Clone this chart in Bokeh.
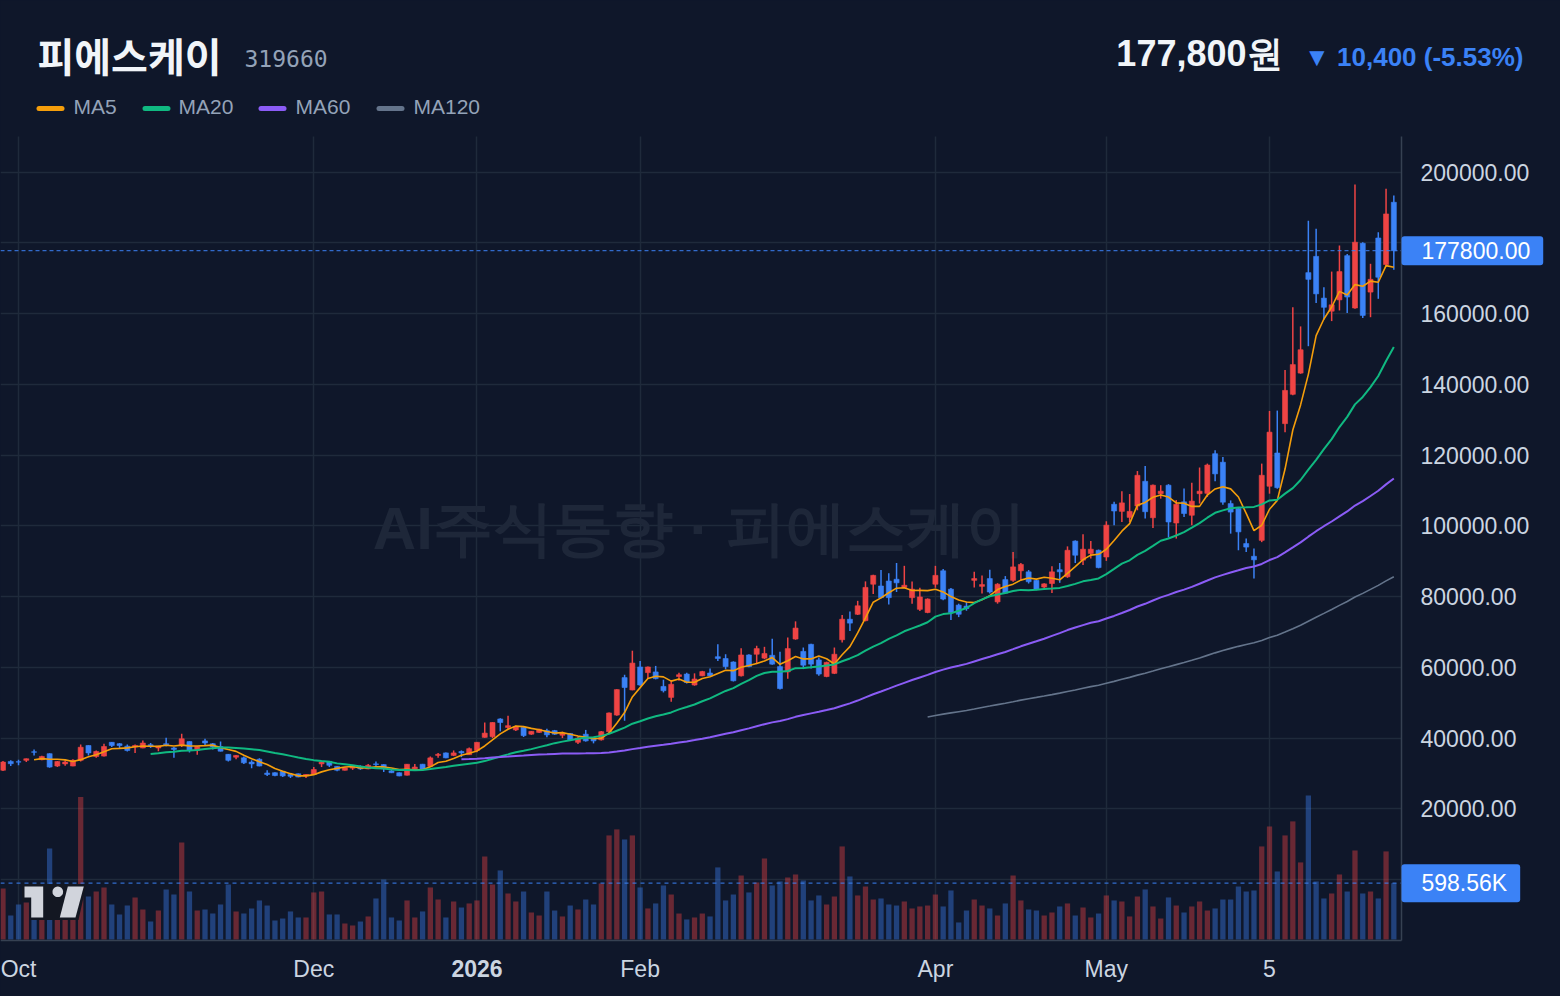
import math
import pandas as pd
from bokeh.plotting import figure
from bokeh.models import (ColumnDataSource, Range1d, FixedTicker, PrintfTickFormatter,
                          Label, BoxAnnotation, PolyAnnotation, LinearAxis, Grid)
from bokeh.embed import file_html
from bokeh.resources import INLINE

BG = "#0f172a"
UP = "#ef4444"
DOWN = "#3b82f6"
TXT = "#cbd5e1"
MUTED = "#94a3b8"
GRID = "#1f2a3b"
AXIS = "#364152"

name = "피에스케이"
code = "319660"
watermark = "AI주식동향 · 피에스케이"

tick_idx = [2, 40, 61, 82, 120, 142, 163]
tick_labels = ["Oct", "Dec", "2026", "Feb", "Apr", "May", "5"]
price_ticks = [0, 20000, 40000, 60000, 80000, 100000, 120000, 140000, 160000, 180000, 200000]

opens = [30900, 33400, 33300, 33700, 36100, 33900, 35600, 32100, 32700, 32100,
         33700, 37900, 34800, 34900, 38800, 38400, 37700, 37500, 37200, 38100,
         37200, 38400, 37200, 37900, 39000, 36500, 39200, 38400, 37600, 35400,
         34600, 34400, 33200, 34000, 30100, 30200, 30600, 29700, 29900, 29300,
         29700, 32700, 33400, 32000, 30900, 31500, 32000, 31300, 32700, 32500,
         30700, 30200, 29500, 31300, 32600, 32000, 35100, 35800, 35100, 36200,
         35300, 36500, 40200, 40400, 45400, 43000, 42300, 43000, 41100, 41600,
         42100, 42100, 40800, 41300, 38800, 41100, 39900, 39500, 41800, 46500,
         57100, 53600, 60100, 58500, 58700, 54600, 51500, 57400, 58100, 55000,
         57600, 58400, 63000, 62500, 61500, 57600, 63500, 63700, 62600, 63400,
         60200, 58700, 68000, 64500, 66500, 62100, 57400, 58300, 67800, 73600,
         75000, 73200, 83500, 83000, 84400, 84900, 82600, 79700, 76400, 75500,
         83500, 87300, 82100, 77600, 77300, 84600, 82900, 85100, 78500, 84800,
         84600, 87300, 87000, 84600, 82700, 83700, 87600, 85600, 95700, 90300,
         92200, 93100, 91200, 106100, 104100, 102400, 105600, 112600, 102300, 109100,
         111500, 100800, 106800, 103000, 109100, 109200, 120400, 118000, 106300, 104900,
         95000, 91400, 95900, 111200, 120600, 128900, 137200, 143200, 171600, 176200,
         164400, 160700, 163900, 176400, 161600, 179900, 166100, 181400, 173900, 191500]

highs = [33500, 33700, 33900, 34200, 36800, 35000, 35700, 33500, 33700, 34000,
         38200, 38000, 36500, 38400, 38900, 38600, 38200, 38200, 39300, 38600,
         37800, 40100, 37500, 41200, 39100, 37700, 39800, 38600, 39000, 35500,
         35200, 34800, 33700, 34300, 30900, 30300, 30700, 29900, 30000, 29800,
         31800, 33300, 33500, 32100, 31700, 32200, 32300, 32700, 33400, 32600,
         31100, 30300, 32700, 32700, 32700, 34800, 35800, 35900, 36500, 36500,
         37300, 38900, 44400, 44500, 45600, 46300, 43500, 43100, 42000, 42600,
         42600, 42300, 41800, 41400, 40400, 42300, 40100, 42000, 47200, 53800,
         57900, 64700, 61800, 60200, 60400, 56500, 56400, 58500, 58500, 58300,
         59000, 59700, 66500, 63700, 61700, 65400, 63700, 66100, 65800, 68100,
         64400, 68400, 73000, 65600, 66700, 62800, 61600, 65600, 74800, 75800,
         78800, 84300, 86200, 87500, 86600, 89500, 88700, 84300, 82500, 79500,
         88700, 87800, 82400, 78000, 78500, 87000, 86000, 87600, 83800, 85800,
         92600, 89500, 87500, 84800, 83800, 88600, 89500, 94200, 95900, 97600,
         95700, 93300, 101300, 106800, 109800, 109000, 115500, 116900, 111700, 111500,
         111800, 107300, 110600, 112200, 116500, 117600, 121400, 119500, 107200, 105200,
         96400, 93600, 117600, 132500, 132600, 144100, 161800, 156400, 186300, 184000,
         167500, 171900, 179300, 176900, 196500, 180200, 174100, 183000, 195300, 193400]

lows = [30700, 32100, 32300, 33200, 35100, 33700, 31600, 31800, 32200, 32000,
        33400, 35100, 34400, 34800, 37500, 37200, 36200, 35800, 37100, 37200,
        36300, 37700, 34400, 37500, 35900, 35300, 37900, 36800, 36200, 33400,
        34000, 32700, 31500, 32000, 29300, 29200, 29000, 28700, 28900, 28700,
        29600, 31800, 31800, 30600, 30800, 31000, 31000, 31200, 31800, 30400,
        30100, 29200, 29400, 30900, 31100, 31900, 34400, 34300, 34900, 34600,
        35200, 36000, 40100, 40000, 41900, 42500, 42000, 40300, 40900, 41400,
        40200, 40900, 40000, 39400, 38300, 39000, 38500, 39300, 41600, 46300,
        44900, 53500, 54800, 56700, 56600, 52900, 50300, 56200, 55400, 54800,
        57500, 57500, 61800, 59500, 56000, 57400, 60000, 60900, 62300, 60700,
        53700, 56800, 67800, 59500, 59700, 57600, 57200, 58100, 67000, 70300,
        74800, 73000, 80700, 79500, 77800, 81300, 82400, 78000, 75900, 75300,
        82500, 79000, 73400, 74200, 76000, 82600, 80900, 80900, 78000, 80900,
        84200, 84600, 83700, 81800, 82000, 81000, 83900, 85300, 89500, 88900,
        90800, 88000, 90100, 100200, 101100, 101100, 104400, 102100, 99400, 107700,
        96700, 96400, 102500, 100200, 106300, 108200, 112600, 106000, 97800, 93100,
        92600, 85100, 95400, 109100, 110500, 126500, 136900, 143000, 150800, 163000,
        158300, 157900, 160900, 160200, 161400, 158800, 159000, 164200, 173300, 172400]

closes = [33200, 32750, 33200, 34150, 36000, 34800, 31800, 33400, 33200, 33700,
          37400, 35800, 36200, 37600, 37900, 37900, 36500, 37900, 38600, 37600,
          37700, 38100, 36800, 39800, 36500, 37600, 38600, 37500, 36300, 33700,
          35100, 33000, 32700, 32100, 29700, 29400, 29300, 29200, 29000, 29700,
          31100, 33200, 32300, 30900, 31600, 31800, 31300, 32300, 32500, 31300,
          30200, 29300, 32600, 31800, 31200, 34400, 35400, 34400, 35800, 35800,
          37000, 38800, 41400, 44400, 44400, 43500, 43200, 40700, 41900, 42500,
          40900, 41100, 41300, 39500, 40000, 39200, 39200, 41800, 47100, 53700,
          54300, 61200, 55000, 60100, 56800, 53400, 55200, 57900, 55700, 56700,
          58800, 57600, 62500, 60200, 56200, 63500, 60200, 65300, 63900, 60900,
          54000, 65300, 71100, 60600, 60900, 58100, 61400, 63700, 73600, 72500,
          77400, 82600, 86000, 79700, 79700, 83900, 83200, 82100, 79900, 79300,
          86000, 79300, 75500, 75000, 76600, 85100, 83400, 81300, 83500, 81000,
          88400, 89100, 84200, 82000, 83600, 87000, 87000, 93100, 91700, 93400,
          93400, 88200, 100200, 104200, 106500, 104100, 114300, 104000, 111500, 109800,
          101100, 106100, 103500, 107000, 109800, 117200, 114700, 106700, 103900, 98300,
          94000, 90400, 114300, 126500, 110800, 138300, 145600, 149800, 169700, 165600,
          161800, 162500, 171900, 164700, 180200, 159500, 169700, 170300, 188200, 177800]

volumes = [542000, 255000, 372000, 393000, 380000, 300000, 967000, 320000, 300000, 330000,
           1513000, 457000, 510000, 553000, 372000, 266000, 361000, 447000, 319000, 191000,
           308000, 532000, 478000, 1031000, 510000, 308000, 319000, 276000, 372000, 585000,
           298000, 276000, 330000, 415000, 361000, 202000, 223000, 298000, 234000, 234000,
           500000, 510000, 266000, 266000, 170000, 149000, 191000, 245000, 436000, 638000,
           234000, 202000, 415000, 234000, 298000, 553000, 425000, 234000, 404000, 340000,
           383000, 415000, 882000, 585000, 734000, 489000, 404000, 510000, 287000, 255000,
           510000, 308000, 245000, 361000, 319000, 425000, 372000, 595000, 1106000, 1170000,
           1063000, 1106000, 553000, 330000, 383000, 574000, 478000, 276000, 213000, 234000,
           276000, 245000, 766000, 415000, 478000, 680000, 500000, 606000, 861000, 574000,
           617000, 659000, 691000, 627000, 415000, 468000, 372000, 457000, 989000, 670000,
           468000, 563000, 425000, 436000, 372000, 361000, 404000, 330000, 351000, 361000,
           478000, 351000, 521000, 181000, 308000, 425000, 361000, 330000, 255000, 383000,
           680000, 415000, 319000, 308000, 255000, 287000, 351000, 383000, 255000, 340000,
           234000, 276000, 468000, 415000, 404000, 245000, 457000, 532000, 351000, 223000,
           447000, 361000, 287000, 351000, 404000, 308000, 330000, 425000, 425000, 563000,
           510000, 521000, 989000, 1201000, 723000, 1106000, 1255000, 819000, 1531000, 617000,
           436000, 489000, 691000, 510000, 946000, 489000, 510000, 436000, 936000, 598560]

n = len(closes)
assert len(opens) == n and len(highs) == n and len(lows) == n and len(volumes) == n

idx = list(range(n))
colors = [UP if c >= o else DOWN for o, c in zip(opens, closes)]
src = ColumnDataSource(dict(
    x=idx, o=opens, h=highs, l=lows, c=closes, v=volumes,
    top=[max(o, c) for o, c in zip(opens, closes)],
    bot=[min(o, c) for o, c in zip(opens, closes)],
    color=colors,
))

ma_specs = [(5, "#f59e0b", 1.6), (20, "#10b981", 2.0), (60, "#8b5cf6", 2.0), (120, "#64748b", 1.6)]
ma_vals = {w: pd.Series(closes).rolling(w).mean().tolist() for w, _, _ in ma_specs}

# plotting-area extents (data units); the frame covers the whole canvas
X_LO, X_HI, X_END = -0.32, 179.99, 200.45
Y_TOP, Y_BOT = 210094, -17237
H = 996


def cy(y):
    return H - y


p = figure(width=1560, height=H,
           x_range=Range1d(X_LO, X_END), y_range=Range1d(-33073, 248548),
           x_axis_type=None, y_axis_type=None,
           output_backend="svg", toolbar_location=None,
           min_border_left=0, min_border_right=0, min_border_top=0, min_border_bottom=0,
           background_fill_color=BG, border_fill_color=BG)
p.outline_line_color = None
p.styles = {"background-color": BG}
try:
    from bokeh.models import GlobalInlineStyleSheet
    p.stylesheets = [GlobalInlineStyleSheet(css=f"html, body {{ margin: 0; background: {BG}; }}")]
except Exception:
    pass
p.extra_y_ranges = {"vol": Range1d(-605700, 9978000)}

# grids (limited to the plotting area)
gx = Grid(dimension=0, ticker=FixedTicker(ticks=tick_idx), grid_line_color=GRID, grid_line_width=1.5)
gy = Grid(dimension=1, ticker=FixedTicker(ticks=price_ticks), grid_line_color=GRID, grid_line_width=1.5)
gx.cross_bounds = (Y_BOT, Y_TOP)
gy.cross_bounds = (X_LO, X_HI)
p.add_layout(gx)
p.add_layout(gy)

# watermark
p.add_layout(Label(x=699, y=cy(528), x_units="screen", y_units="screen", text=watermark,
                   text_align="center", text_baseline="middle", text_font="Liberation Sans",
                   text_font_style="bold", text_font_size="60px", text_color="#1e2739",
                   level="underlay"))

# volume
p.vbar(x="x", top="v", bottom=0, width=0.68, y_range_name="vol", source=src,
       fill_color="color", fill_alpha=0.4, line_color=None)

# candles
p.segment(x0="x", y0="l", x1="x", y1="h", line_color="color", line_width=1.5, source=src)
p.vbar(x="x", top="top", bottom="bot", width=0.65, fill_color="color", line_color="color",
       line_width=0.6, source=src)

# moving averages
for w, col, lw in ma_specs:
    p.line(idx, ma_vals[w], line_color=col, line_width=lw)

# last price / volume lines
p.line([X_LO, X_HI], [closes[-1], closes[-1]], line_color=DOWN, line_dash="4 3", line_width=1)
p.line([X_LO, X_HI], [volumes[-1], volumes[-1]], y_range_name="vol", line_color=DOWN,
       line_dash="4 4", line_width=1.2, line_alpha=0.8)

# price axis (fixed at the right edge of the plotting area)
ax = LinearAxis(fixed_location=X_HI, bounds=(Y_BOT, Y_TOP),
                ticker=FixedTicker(ticks=[t for t in price_ticks if t not in (0, 180000)]),
                formatter=PrintfTickFormatter(format="%.2f"))
ax.major_label_text_font = "Liberation Sans"
ax.major_label_text_font_size = "23px"
ax.major_label_text_color = TXT
ax.major_tick_line_color = None
ax.minor_tick_line_color = None
ax.major_tick_out = 0
ax.major_tick_in = 0
ax.axis_line_color = AXIS
ax.axis_line_width = 1.5
ax.major_label_standoff = 19
p.add_layout(ax, "right")

# time axis (fixed at the bottom of the plotting area)
xa = LinearAxis(fixed_location=Y_BOT, bounds=(X_LO, X_HI), ticker=FixedTicker(ticks=tick_idx))
xa.major_label_overrides = {t: (lab if lab != "2026" else " ") for t, lab in zip(tick_idx, tick_labels)}
xa.major_label_text_font = "Liberation Sans"
xa.major_label_text_font_size = "23px"
xa.major_label_text_color = TXT
xa.major_tick_line_color = None
xa.minor_tick_line_color = None
xa.major_tick_out = 0
xa.major_tick_in = 0
xa.axis_line_color = AXIS
xa.axis_line_width = 1.5
xa.major_label_standoff = 16
p.add_layout(xa, "below")

p.add_layout(Label(x=61, y=cy(968), x_units="data", y_units="screen", text="2026",
                   text_align="center", text_baseline="alphabetic", text_font="Liberation Sans",
                   text_font_style="bold", text_font_size="23px", text_color=TXT))

# last value tags
tag_pad = dict(left=20, right=13, top=6, bottom=6)
p.add_layout(Label(x=1401, y=closes[-1], x_units="screen", y_units="data",
                   text=f"{closes[-1]:.2f}", text_align="left", text_baseline="middle",
                   text_font="Liberation Sans", text_font_size="23px", text_color="#ffffff",
                   background_fill_color=DOWN, padding=tag_pad, border_radius=3))
p.add_layout(Label(x=1401, y=volumes[-1], x_units="screen", y_units="data", y_range_name="vol",
                   text=f"{volumes[-1] / 1000:.2f}K", text_align="left", text_baseline="middle",
                   text_font="Liberation Sans", text_font_size="23px", text_color="#ffffff",
                   background_fill_color=DOWN, padding=tag_pad, border_radius=3))

# header
p.add_layout(Label(x=37, y=cy(54), x_units="screen", y_units="screen", text=name,
                   text_font="Noto Sans CJK KR", text_font_style="bold", text_font_size="40px",
                   text_color="#f1f5f9", text_baseline="alphabetic"))
p.add_layout(Label(x=244, y=cy(58), x_units="screen", y_units="screen", text=code,
                   text_font="DejaVu Sans Mono", text_font_size="23px",
                   text_color=MUTED, text_baseline="alphabetic"))
chg = closes[-1] - closes[-2]
pct = chg / closes[-2] * 100
p.add_layout(Label(x=1282, y=cy(53), x_units="screen", y_units="screen",
                   text=f"{closes[-1]:,}원", text_align="right", text_baseline="alphabetic",
                   text_font="Liberation Sans", text_font_style="bold", text_font_size="36px",
                   text_color="#f1f5f9"))
arrow = "▼" if chg < 0 else "▲"
p.add_layout(Label(x=1523, y=cy(56), x_units="screen", y_units="screen",
                   text=f"{arrow} {abs(chg):,} ({pct:.2f}%)", text_align="right",
                   text_baseline="alphabetic", text_font="Liberation Sans",
                   text_font_style="bold", text_font_size="26px",
                   text_color=DOWN if chg < 0 else UP))

# MA legend
legend_pos = [(36, 73), (142, 178), (258, 295), (376, 413)]
for (w, col, _), (lx, tx) in zip(ma_specs, legend_pos):
    p.add_layout(BoxAnnotation(left=lx, right=lx + 28, top=cy(105.5), bottom=cy(110.5),
                               left_units="screen", right_units="screen",
                               top_units="screen", bottom_units="screen",
                               fill_color=col, fill_alpha=1, line_color=None, border_radius=3))
    p.add_layout(Label(x=tx, y=cy(106), x_units="screen", y_units="screen", text=f"MA{w}",
                       text_font="Liberation Sans", text_font_size="21px", text_color=MUTED,
                       text_baseline="alphabetic"))


# TradingView-style logo (bottom-left)
def poly(pts, color):
    p.add_layout(PolyAnnotation(xs=[q[0] for q in pts], ys=[cy(q[1]) for q in pts],
                                xs_units="screen", ys_units="screen",
                                fill_color=color, fill_alpha=1, line_color=None))


poly([(21.5, 883.5), (86, 883.5), (78, 919.5), (29, 919.5), (29, 901), (21.5, 901)], "#131722")
poly([(24, 886), (42.7, 886), (42.7, 917), (30.7, 917), (30.7, 897), (24, 897)], "#d1d4dc")
poly([(57.3 + 5.3 * math.cos(a * math.pi / 12), 891.3 + 5.3 * math.sin(a * math.pi / 12))
      for a in range(24)], "#d1d4dc")
poly([(67.3, 886), (83.3, 886), (75, 917), (59.3, 917)], "#d1d4dc")

open("out.html", "w").write(file_html(p, INLINE))
